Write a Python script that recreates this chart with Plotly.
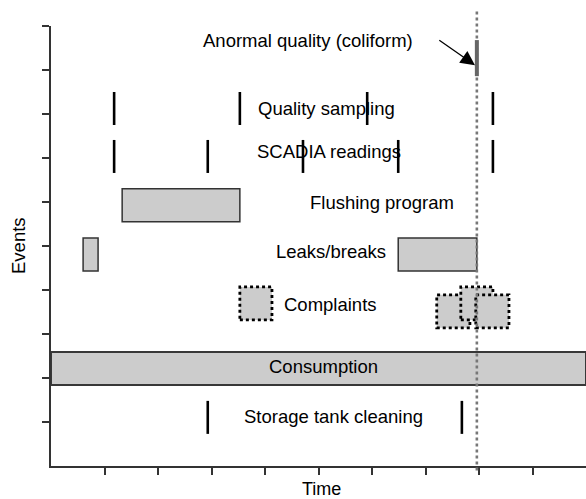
import plotly.graph_objects as go

# ---- data (time units on x, event rows on y) ----
x_ticks = [1, 2, 3, 4, 5, 6, 7, 8, 9]
y_ticks = [1, 2, 3, 4, 5, 6, 7, 8, 9, 10]

alert_time = 7.96                       # anormal quality detection (dotted line)
alert_bar = [8.86, 9.68]                # y extent of the anormal-quality mark

quality_sampling_t = [1.18, 3.53, 5.91, 8.26]
quality_sampling_y = [7.75, 8.50]
scadia_t = [1.18, 2.93, 4.71, 6.49, 8.26]
scadia_y = [6.66, 7.41]
storage_t = [2.93, 7.68]
storage_y = [0.73, 1.48]

flushing_start = [1.33]
flushing_end = [3.53]
flushing_y = [5.55, 6.30]

leaks_start = [0.60, 6.49]
leaks_end = [0.88, 7.96]
leaks_y = [4.43, 5.18]

complaints_start = [3.53, 7.21, 7.66, 7.94]
complaints_end = [4.13, 7.83, 8.26, 8.56]
complaints_y0 = [3.32, 3.14, 3.32, 3.14]
complaints_y1 = [4.07, 3.89, 4.07, 3.89]

consumption_start = [0.0]
consumption_end = [10.0]
consumption_y = [1.84, 2.59]

labels = ["Anormal quality (coliform)", "Quality sampling", "SCADIA readings",
          "Flushing program", "Leaks/breaks", "Complaints", "Consumption",
          "Storage tank cleaning"]
label_x = [4.80, 5.15, 5.19, 6.18, 5.24, 5.22, 5.10, 5.28]
label_y = [9.66, 8.12, 7.15, 5.98, 4.875, 3.66, 2.26, 1.125]

arrow_tail = [7.23, 9.70]
arrow_head = [7.925, 9.11]

x_title = "Time"
y_title = "Events"

X_RANGE = [0, 10]
Y_RANGE = [0, 10]

FONT = "Liberation Sans, Arial, Helvetica, sans-serif"
FILL = "#cccccc"

fig = go.Figure()


def ticks_trace(ts, yr):
    xs, ys = [], []
    for t in ts:
        xs += [t, t, None]
        ys += [yr[0], yr[1], None]
    return go.Scatter(x=xs, y=ys, mode="lines", line=dict(color="black", width=2.6),
                      hoverinfo="skip", showlegend=False)


shapes = []

# consumption band
for s, e in zip(consumption_start, consumption_end):
    shapes.append(dict(type="rect", xref="x", yref="y", x0=s, x1=e,
                       y0=consumption_y[0], y1=consumption_y[1],
                       fillcolor=FILL, line=dict(color="#383838", width=2), layer="below"))

# flushing program
for s, e in zip(flushing_start, flushing_end):
    shapes.append(dict(type="rect", xref="x", yref="y", x0=s, x1=e,
                       y0=flushing_y[0], y1=flushing_y[1],
                       fillcolor=FILL, line=dict(color="#333333", width=1.5)))

# leaks / breaks
for s, e in zip(leaks_start, leaks_end):
    shapes.append(dict(type="rect", xref="x", yref="y", x0=s, x1=e,
                       y0=leaks_y[0], y1=leaks_y[1],
                       fillcolor=FILL, line=dict(color="#333333", width=1.5)))

# complaints (dashed borders)
for s, e, a, b in zip(complaints_start, complaints_end, complaints_y0, complaints_y1):
    shapes.append(dict(type="rect", xref="x", yref="y", x0=s, x1=e, y0=a, y1=b,
                       fillcolor=FILL, line=dict(color="black", width=2.8, dash="dot")))

# alert dotted line (extends slightly beyond the plot area)
ax_span = X_RANGE[1] - X_RANGE[0]
ay_span = Y_RANGE[1] - Y_RANGE[0]
shapes.append(dict(type="line", xref="paper", yref="paper",
                   x0=(alert_time - X_RANGE[0]) / ax_span, x1=(alert_time - X_RANGE[0]) / ax_span,
                   y0=-0.1 / ay_span, y1=10.36 / ay_span,
                   line=dict(color="#777777", width=2.6, dash="dot")))
# anormal quality mark
shapes.append(dict(type="line", xref="x", yref="y", x0=alert_time, x1=alert_time,
                   y0=alert_bar[0], y1=alert_bar[1],
                   line=dict(color="#666666", width=4)))

fig.add_trace(ticks_trace(quality_sampling_t, quality_sampling_y))
fig.add_trace(ticks_trace(scadia_t, scadia_y))
fig.add_trace(ticks_trace(storage_t, storage_y))

annotations = []
for t, x, y in zip(labels, label_x, label_y):
    annotations.append(dict(text=t, x=x, y=y, xref="x", yref="y", showarrow=False,
                            xanchor="center", yanchor="middle",
                            font=dict(family=FONT, size=18.5, color="black")))

annotations.append(dict(text="", x=arrow_head[0], y=arrow_head[1], xref="x", yref="y",
                        ax=arrow_tail[0], ay=arrow_tail[1], axref="x", ayref="y",
                        showarrow=True, arrowhead=2, arrowsize=2.2, arrowwidth=1.3,
                        arrowcolor="black"))

# axis titles
annotations.append(dict(text=x_title, x=0.505, y=0, xref="paper", yref="paper",
                        xanchor="center", yanchor="middle", yshift=-23, showarrow=False,
                        font=dict(family=FONT, size=18, color="black")))
annotations.append(dict(text=y_title, x=0, y=0.5, xref="paper", yref="paper",
                        xanchor="center", yanchor="middle", xshift=-33, textangle=-90,
                        showarrow=False, font=dict(family=FONT, size=18.5, color="black")))

fig.update_layout(
    width=586, height=499,
    margin=dict(l=51, r=0, t=26, b=33),
    paper_bgcolor="white", plot_bgcolor="white",
    shapes=shapes, annotations=annotations,
    showlegend=False,
    font=dict(family=FONT, size=17, color="black"),
)
fig.update_xaxes(range=X_RANGE, tickvals=x_ticks, showticklabels=False,
                 ticks="outside", ticklen=7, tickwidth=1.5, tickcolor="#333333",
                 showline=True, linecolor="#333333", linewidth=1.5, automargin=False,
                 showgrid=False, zeroline=False, fixedrange=True)
fig.update_yaxes(range=Y_RANGE, tickvals=y_ticks, showticklabels=False,
                 ticks="outside", ticklen=7, tickwidth=1.5, tickcolor="#333333",
                 showline=True, linecolor="#333333", linewidth=1.5, automargin=False,
                 showgrid=False, zeroline=False, fixedrange=True)

fig.write_html("out.html", config={"displayModeBar": False},
               post_script="document.body.style.margin='0';document.body.style.overflow='hidden';")
